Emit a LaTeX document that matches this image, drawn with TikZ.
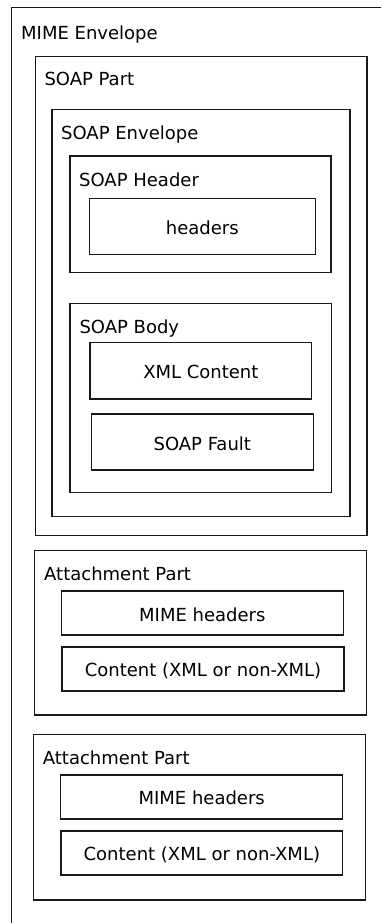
\documentclass[tikz,border=0pt]{standalone}
\usepackage{fontspec}
\setmainfont{DejaVu Sans}
% \soapbox{name}{left}{top}{right}{bottom}: a framed rectangle given by its corners
\newcommand\soapbox[5]{%
  \node[frame, minimum width={#4-#2}, minimum height={#5-#3}] (#1)
    at ({(#2+#4)/2},{(#3+#5)/2}) {};}
\begin{document}
\begin{tikzpicture}[x=1pt,y=-1pt,
  frame/.style={draw=black!90, line width=1.4pt, rectangle, inner sep=0pt, outer sep=0pt},
  edge/.style={draw=black!90, line width=1.4pt},
  title/.style={anchor=base west, inner sep=0pt, font=\fontsize{18}{22}\selectfont},
  item/.style={anchor=base, inner sep=0pt, font=\fontsize{18}{22}\selectfont}]
  \useasboundingbox[fill=white] (0,0) rectangle (381,923);

  % outer MIME envelope: only its left and top sides fall inside the picture
  \coordinate (mimesw) at (11.7,923);
  \coordinate (mimene) at (381,7.3);
  \draw[edge] (mimesw) |- (mimene);
  \node[title] (mimet) at (21,40) {MIME Envelope};

  % SOAP part
  \soapbox{part}{35.7}{56.7}{367}{535.7}
  \node[title] (partt) at (44.3,85.7) {SOAP Part};

  \soapbox{env}{52}{109.3}{350}{516.7}
  \node[title] (envt) at (61,139.3) {SOAP Envelope};

  \soapbox{hdr}{70}{156}{331}{272.7}
  \node[title] (hdrt) at (79,186) {SOAP Header};
  \soapbox{hdrs}{89.3}{198.7}{315.3}{254.3}
  \node[item] (hdrst) at (hdrs.center |- 0,234) {headers};

  \soapbox{body}{70}{303.3}{331.7}{492.3}
  \node[title] (bodyt) at (79.3,333.3) {SOAP Body};
  \soapbox{xml}{90}{342.7}{311.7}{399}
  \node[item] (xmlt) at (xml.center |- 0,378.3) {XML Content};
  \soapbox{fault}{91.3}{414}{313.3}{470}
  \node[item] (faultt) at (fault.center |- 0,450) {SOAP Fault};

  % first attachment part
  \soapbox{att1}{34.7}{550.7}{366.7}{715}
  \node[title] (att1t) at (44,580) {Attachment Part};
  \soapbox{mh1}{61.3}{591}{343.3}{635}
  \node[item] (mh1t) at (mh1.center |- 0,621) {MIME headers};
  \soapbox{ct1}{62}{647}{344}{691}
  \node[item] (ct1t) at (ct1.center |- 0,676.7) {Content (XML or non-XML)};

  % second attachment part
  \soapbox{att2}{33.7}{734.3}{365.7}{900}
  \node[title] (att2t) at (42.7,764) {Attachment Part};
  \soapbox{mh2}{60.7}{775}{342.7}{819}
  \node[item] (mh2t) at (mh2.center |- 0,804.3) {MIME headers};
  \soapbox{ct2}{61}{831}{342.7}{875}
  \node[item] (ct2t) at (ct2.center |- 0,860) {Content (XML or non-XML)};
\end{tikzpicture}
\end{document}
